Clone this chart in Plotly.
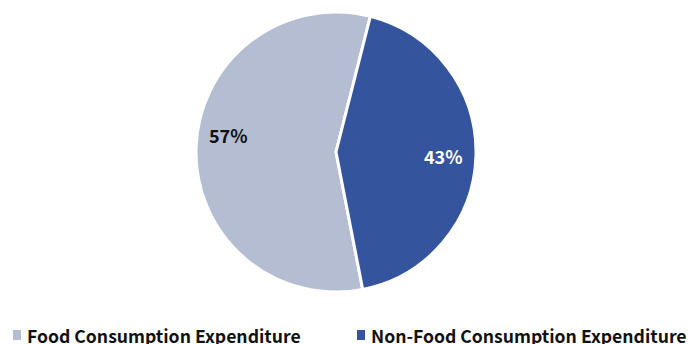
import math
import plotly.graph_objects as go

categories = ["Food Consumption Expenditure", "Non-Food Consumption Expenditure"]
values = [57, 43]
colors = ["#B4BDD1", "#35549E"]
text_colors = ["#111111", "#FFFFFF"]

W, H = 695, 344
CX, CY, R = 336, 152, 140          # pie centre / radius in pixels
ROTATION = 169.0                   # start angle of first slice (clockwise from 12 o'clock)
LABEL_FRAC = 0.77
label_yshift = [14, -1]            # small style nudges for the labels
FONT = "Noto Sans CJK KR"
legend_x = [13, 357]               # left edge of each legend swatch (px)
LEG_Y = 335                        # legend row centre (px)

fig = go.Figure(go.Pie(
    labels=categories,
    values=values,
    sort=False,
    direction="clockwise",
    rotation=ROTATION,
    marker=dict(colors=colors, line=dict(color="white", width=3)),
    textinfo="none",
    domain=dict(x=[(CX - R) / W, (CX + R) / W], y=[1 - (CY + R) / H, 1 - (CY - R) / H]),
    hoverinfo="label+percent",
    showlegend=False,
))

total = sum(values)
start = ROTATION
for v, c, ys in zip(values, text_colors, label_yshift):
    span = 360 * v / total
    mid = math.radians(start + span / 2)
    start += span
    px = CX + LABEL_FRAC * R * math.sin(mid)
    py = CY - LABEL_FRAC * R * math.cos(mid)
    fig.add_annotation(
        x=px / W, y=1 - py / H, xref="paper", yref="paper",
        text=f"{round(100 * v / total)}%", showarrow=False,
        xanchor="center", yanchor="middle", yshift=ys,
        font=dict(family=FONT, size=18, color=c, weight="bold"),
    )

# legend drawn as swatch + text
for name, col, lx in zip(categories, colors, legend_x):
    fig.add_shape(
        type="rect", xref="paper", yref="paper",
        x0=lx / W, x1=(lx + 8) / W, y0=1 - (LEG_Y + 5) / H, y1=1 - (LEG_Y - 5) / H,
        fillcolor=col, line=dict(width=0),
    )
    fig.add_annotation(
        x=(lx + 12) / W, y=1 - LEG_Y / H, xref="paper", yref="paper",
        text=name, showarrow=False, xanchor="left", yanchor="middle",
        font=dict(family=FONT, size=17.6, color="#111111", weight="bold"),
    )

fig.update_layout(
    width=W, height=H,
    margin=dict(l=0, r=0, t=0, b=0),
    paper_bgcolor="white",
    showlegend=False,
)
fig.write_html("out.html")
